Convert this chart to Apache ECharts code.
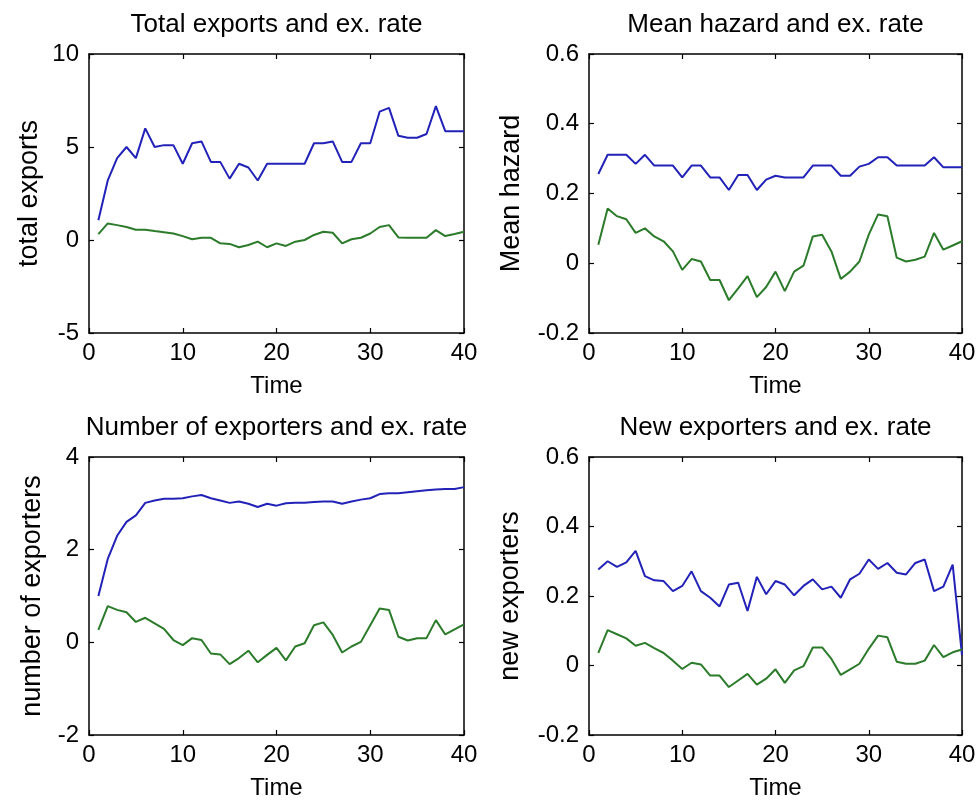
<!DOCTYPE html>
<html><head><meta charset="utf-8">
<script src="https://cdn.jsdelivr.net/npm/echarts@6/dist/echarts.min.js"></script>
<style>html,body{margin:0;padding:0;background:#fff}#c{width:980px;height:809px}</style>
</head><body><div id="c"></div>
<script>
// ---- data ----
const time = [1,2,3,4,5,6,7,8,9,10,11,12,13,14,15,16,17,18,19,20,21,22,23,24,25,26,27,28,29,30,31,32,33,34,35,36,37,38,39,40];
const xTicks = [0, 10, 20, 30, 40];

const titles = ['Total exports and ex. rate', 'Mean hazard and ex. rate', 'Number of exporters and ex. rate', 'New exporters and ex. rate'];
const yNames = ['total exports', 'Mean hazard', 'number of exporters', 'new exporters'];
const yRanges = [[-5, 10, 5], [-0.2, 0.6, 0.2], [-2, 4, 2], [-0.2, 0.6, 0.2]];

const exportsBlue = [1.06,3.2,4.4,5.0,4.4,6.0,5.0,5.1,5.1,4.1,5.2,5.3,4.2,4.2,3.3,4.1,3.9,3.2,4.1,4.1,4.1,4.1,4.1,5.2,5.2,5.3,4.2,4.2,5.2,5.2,6.9,7.1,5.6,5.5,5.5,5.7,7.2,5.85,5.85,5.85];
const exportsGreen = [0.32,0.89,0.8,0.7,0.55,0.55,0.48,0.42,0.35,0.21,0.04,0.12,0.12,-0.18,-0.21,-0.39,-0.27,-0.09,-0.39,-0.18,-0.32,-0.09,0,0.27,0.44,0.39,-0.18,0.04,0.12,0.35,0.7,0.8,0.14,0.12,0.12,0.12,0.53,0.21,0.32,0.44];

const hazardBlue = [0.256,0.311,0.311,0.311,0.285,0.311,0.28,0.28,0.28,0.246,0.28,0.28,0.246,0.246,0.21,0.253,0.253,0.21,0.24,0.251,0.246,0.246,0.246,0.28,0.28,0.28,0.251,0.251,0.277,0.285,0.304,0.304,0.28,0.28,0.28,0.28,0.304,0.275,0.275,0.275];
const hazardGreen = [0.053,0.157,0.135,0.126,0.087,0.1,0.077,0.063,0.034,-0.019,0.012,0.005,-0.048,-0.048,-0.106,-0.072,-0.037,-0.097,-0.068,-0.024,-0.08,-0.024,-0.007,0.077,0.082,0.034,-0.045,-0.024,0.005,0.082,0.14,0.135,0.016,0.005,0.01,0.019,0.087,0.039,0.051,0.063];

const numBlue = [1.0,1.8,2.3,2.6,2.74,3.01,3.06,3.1,3.1,3.11,3.15,3.18,3.11,3.06,3.01,3.04,2.99,2.92,2.99,2.95,3.0,3.01,3.01,3.03,3.04,3.04,2.99,3.04,3.08,3.11,3.2,3.22,3.22,3.24,3.26,3.28,3.3,3.31,3.31,3.35];
const numGreen = [0.27,0.78,0.7,0.65,0.44,0.53,0.41,0.29,0.05,-0.06,0.09,0.05,-0.24,-0.26,-0.47,-0.34,-0.18,-0.43,-0.27,-0.12,-0.39,-0.09,-0.02,0.37,0.43,0.16,-0.22,-0.09,0.01,0.37,0.73,0.7,0.12,0.04,0.09,0.09,0.48,0.17,0.28,0.39];

const newBlue = [0.276,0.3,0.284,0.297,0.33,0.257,0.245,0.243,0.214,0.229,0.271,0.214,0.195,0.17,0.233,0.238,0.157,0.255,0.205,0.243,0.233,0.202,0.229,0.248,0.219,0.227,0.195,0.248,0.264,0.305,0.278,0.295,0.267,0.262,0.295,0.305,0.214,0.227,0.29,0.03];
const newGreen = [0.036,0.102,0.09,0.078,0.057,0.065,0.05,0.036,0.014,-0.01,0.008,0.003,-0.029,-0.029,-0.062,-0.043,-0.024,-0.055,-0.038,-0.011,-0.05,-0.014,-0.002,0.052,0.052,0.019,-0.027,-0.011,0.005,0.048,0.086,0.081,0.011,0.005,0.005,0.014,0.059,0.024,0.038,0.046];

const blueSeries = [exportsBlue, hazardBlue, numBlue, newBlue];
const greenSeries = [exportsGreen, hazardGreen, numGreen, newGreen];

// ---- layout / style ----
const grids = [
  {left: 89, top: 54, width: 375, height: 279},
  {left: 589, top: 54, width: 373, height: 279},
  {left: 89, top: 457, width: 375, height: 278},
  {left: 589, top: 457, width: 373, height: 278}
];
const yNameGaps = [46, 64, 43, 65];
const FONT = 'Liberation Sans, Arial, sans-serif';
const BLUE = '#2222b8';
const GREEN = '#2b7b2b';

const axisLine = {show: true, onZero: false, lineStyle: {color: '#000', width: 1.5}};
const axisTick = {show: true, inside: true, length: 5, lineStyle: {color: '#000', width: 1.2}};

const xAxis = [], yAxis = [], series = [];
grids.forEach((g, i) => {
  xAxis.push({
    type: 'value', gridIndex: i, position: 'bottom', min: xTicks[0], max: xTicks[xTicks.length - 1],
    interval: xTicks[1] - xTicks[0],
    axisLine, axisTick, splitLine: {show: false},
    axisLabel: {fontSize: 24, color: '#000', margin: 8, fontFamily: FONT},
    name: 'Time', nameLocation: 'middle', nameGap: 41,
    nameTextStyle: {fontSize: 24, color: '#000', fontFamily: FONT}
  });
  xAxis.push({
    type: 'value', gridIndex: i, position: 'top', min: xTicks[0], max: xTicks[xTicks.length - 1],
    interval: xTicks[1] - xTicks[0],
    axisLine, axisTick, splitLine: {show: false}, axisLabel: {show: false},
    name: titles[i], nameLocation: 'middle', nameGap: 16,
    nameTextStyle: {fontSize: 26, color: '#000', fontFamily: FONT}
  });
  const r = yRanges[i];
  yAxis.push({
    type: 'value', gridIndex: i, position: 'left', min: r[0], max: r[1], interval: r[2],
    axisLine, axisTick, splitLine: {show: false},
    axisLabel: {fontSize: 24, color: '#000', margin: 10, fontFamily: FONT},
    name: yNames[i], nameLocation: 'middle', nameGap: yNameGaps[i],
    nameTextStyle: {fontSize: 27, color: '#000', fontFamily: FONT}
  });
  yAxis.push({
    type: 'value', gridIndex: i, position: 'right', min: r[0], max: r[1], interval: r[2],
    axisLine, axisTick, splitLine: {show: false}, axisLabel: {show: false}
  });
  series.push({
    type: 'line', xAxisIndex: 2 * i, yAxisIndex: 2 * i, showSymbol: false, symbol: 'none',
    lineStyle: {color: BLUE, width: 2}, itemStyle: {color: BLUE},
    data: time.map((t, k) => [t, blueSeries[i][k]])
  });
  series.push({
    type: 'line', xAxisIndex: 2 * i, yAxisIndex: 2 * i, showSymbol: false, symbol: 'none',
    lineStyle: {color: GREEN, width: 2}, itemStyle: {color: GREEN},
    data: time.map((t, k) => [t, greenSeries[i][k]])
  });
});

const chart = echarts.init(document.getElementById('c'), null, {renderer: 'canvas'});
chart.setOption({
  backgroundColor: '#fff',
  animation: false,
  grid: grids.map(g => Object.assign({containLabel: false}, g)),
  xAxis, yAxis, series
});
</script>
</body></html>
